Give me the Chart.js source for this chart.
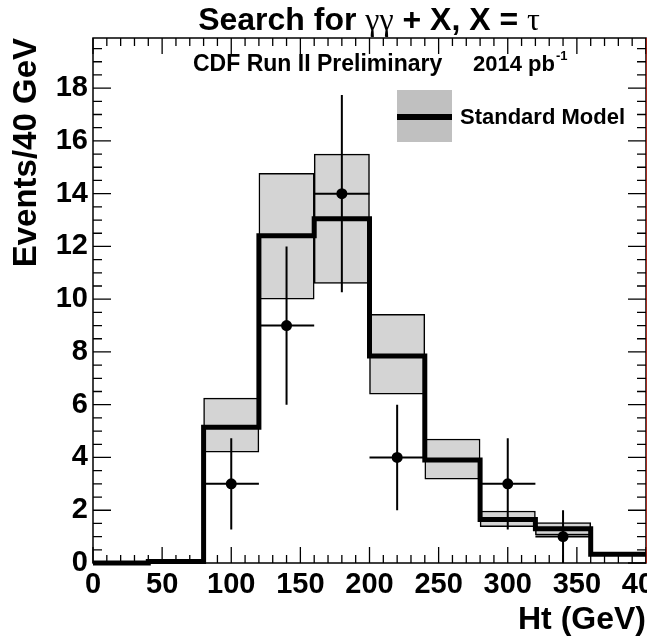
<!DOCTYPE html>
<html><head><meta charset="utf-8">
<script src="https://cdn.jsdelivr.net/npm/chart.js@4/dist/chart.umd.min.js"></script>
<style>
html,body{margin:0;padding:0;background:#fff;overflow:hidden;width:647px;height:641px}
#wrap{width:647px;height:641px;overflow:hidden;position:relative}
canvas{display:block}
</style></head>
<body><div id="wrap"><canvas id="c" width="690" height="641"></canvas></div>
<script>
// ---- data ----
const binLeftEdges = [0, 40, 80, 120, 160, 200, 240, 280, 320, 360];
const binWidth = 40;
const histEnd = 400;
const smValues  = [0.0, 0.06, 5.15, 12.4, 13.05, 7.85, 3.9, 1.65, 1.3, 0.33];
const bandLow   = [null, null, 4.2, 10.0, 10.6, 6.4, 3.18, 1.38, 1.06, null];
const bandHigh  = [null, null, 6.25, 14.77, 15.5, 9.43, 4.7, 1.97, 1.53, null];
const obsX    = [100, 140, 180, 220, 300, 340];
const obsY    = [3, 9, 14, 4, 3, 1];
const obsErr  = [1.73, 3.0, 3.74, 2.0, 1.73, 1.0];
const obsXErr = [20, 20, 20, 20, 20, 20];
const xMajorStep = 50, xMinorStep = 10;
const yMajorStep = 2, yMinorStep = 0.5;
const xMin = 0, xMax = 400, yMin = 0, yMax = 19.9;

const titleParts = [
  ["Search for ", "bold 32px 'Liberation Sans'"],
  ["\u03b3\u03b3", "32px 'Liberation Serif'"],
  [" + X, X = ", "bold 32px 'Liberation Sans'"],
  ["\u03c4", "32px 'Liberation Serif'"]
];
const labelCDF = "CDF Run II Preliminary";
const labelLumi = "2014 pb";
const labelLumiSup = "-1";
const legendLabel = "Standard Model";
const xTitle = "Ht (GeV)";
const yTitle = "Events/40 GeV";

// ---- tables for the library ----
const bandData = binLeftEdges.map((x, i) => bandLow[i] === null ? null :
  ({x: x + binWidth / 2, y: [bandLow[i], bandHigh[i]]})).filter(d => d);
const smData = binLeftEdges.map((x, i) => ({x: x, y: smValues[i]}))
  .concat([{x: histEnd, y: smValues[smValues.length - 1]}]);
const obsData = obsX.map((x, i) => ({x: x, y: obsY[i]}));

const errorBars = {
  id: 'errorBars',
  afterDatasetsDraw(chart) {
    const {ctx, scales: {x, y}} = chart;
    ctx.save();
    ctx.strokeStyle = '#000';
    ctx.lineWidth = 2;
    obsX.forEach((xv, i) => {
      const px = x.getPixelForValue(xv), py = y.getPixelForValue(obsY[i]);
      ctx.beginPath();
      ctx.moveTo(px, y.getPixelForValue(obsY[i] - obsErr[i]));
      ctx.lineTo(px, y.getPixelForValue(obsY[i] + obsErr[i]));
      ctx.moveTo(x.getPixelForValue(xv - obsXErr[i]), py);
      ctx.lineTo(x.getPixelForValue(xv + obsXErr[i]), py);
      ctx.stroke();
    });
    ctx.restore();
  }
};

const frameTicks = {
  id: 'frameTicks',
  afterDraw(chart) {
    const {ctx, chartArea: a, scales: {x, y}} = chart;
    ctx.save();
    ctx.strokeStyle = '#000';
    ctx.lineWidth = 1.5;
    ctx.strokeRect(a.left, a.top, a.right - a.left, a.bottom - a.top);
    ctx.lineWidth = 1.3;
    ctx.beginPath();
    for (let v = xMin; v <= xMax + 1e-9; v += xMinorStep) {
      const major = Math.abs(v / xMajorStep - Math.round(v / xMajorStep)) < 1e-6;
      const L = major ? 16 : 8;
      const px = x.getPixelForValue(v);
      ctx.moveTo(px, a.bottom); ctx.lineTo(px, a.bottom - L);
      ctx.moveTo(px, a.top); ctx.lineTo(px, a.top + L);
    }
    for (let v = yMin; v <= yMax + 1e-9; v += yMinorStep) {
      const major = Math.abs(v / yMajorStep - Math.round(v / yMajorStep)) < 1e-6;
      const L = major ? 18 : 9;
      const py = y.getPixelForValue(v);
      ctx.moveTo(a.left, py); ctx.lineTo(a.left + L, py);
      ctx.moveTo(a.right, py); ctx.lineTo(a.right - L, py);
    }
    ctx.stroke();
    ctx.strokeStyle = '#d02010';
    ctx.lineWidth = 1;
    ctx.beginPath();
    ctx.moveTo(a.right + 0.8, a.top); ctx.lineTo(a.right + 0.8, a.bottom);
    ctx.stroke();
    ctx.restore();
  }
};

const annotations = {
  id: 'annotations',
  afterDraw(chart) {
    const {ctx} = chart;
    ctx.save();
    ctx.fillStyle = '#000';
    ctx.textBaseline = 'alphabetic';
    // title
    let total = 0;
    titleParts.forEach(([t, f]) => { ctx.font = f; total += ctx.measureText(t).width; });
    let tx = 369 - total / 2;
    titleParts.forEach(([t, f]) => { ctx.font = f; ctx.fillText(t, tx, 30); tx += ctx.measureText(t).width; });
    // CDF label
    ctx.font = "bold 23px 'Liberation Sans'";
    ctx.fillText(labelCDF, 193, 71);
    ctx.font = "bold 22px 'Liberation Sans'";
    ctx.fillText(labelLumi, 473, 71);
    const lw = ctx.measureText(labelLumi).width;
    ctx.font = "bold 13px 'Liberation Sans'";
    ctx.fillText(labelLumiSup, 473 + lw + 1, 60);
    // legend
    ctx.fillStyle = '#c0c0c0';
    ctx.fillRect(397, 90, 55, 52);
    ctx.strokeStyle = '#000';
    ctx.lineWidth = 6;
    ctx.beginPath(); ctx.moveTo(397, 117); ctx.lineTo(452, 117); ctx.stroke();
    ctx.fillStyle = '#000';
    ctx.font = "bold 22px 'Liberation Sans'";
    ctx.textBaseline = 'middle';
    ctx.fillText(legendLabel, 460, 118);
    ctx.restore();
  }
};

new Chart(document.getElementById('c'), {
  type: 'scatter',
  data: {
    datasets: [
      {
        type: 'bar', label: 'SM uncertainty', data: bandData, order: 3,
        backgroundColor: '#d4d4d4', borderColor: '#000', borderWidth: 1.5,
        borderSkipped: false, barPercentage: 1, categoryPercentage: 1, grouped: false
      },
      {
        type: 'line', label: legendLabel, data: smData, order: 2,
        stepped: true, borderColor: '#000', borderWidth: 5, pointRadius: 0,
        fill: false, clip: false, borderCapStyle: 'butt', borderJoinStyle: 'miter'
      },
      {
        type: 'scatter', label: 'Data', data: obsData, order: 1,
        pointRadius: 5.5, pointBackgroundColor: '#000', pointBorderColor: '#000', pointBorderWidth: 0
      }
    ]
  },
  options: {
    responsive: false,
    devicePixelRatio: 1,
    animation: false,
    layout: {padding: {top: 38, right: 44, bottom: 0, left: 0}},
    plugins: {legend: {display: false}, title: {display: false}, tooltip: {enabled: false}},
    scales: {
      x: {
        type: 'linear', min: xMin, max: xMax, offset: false,
        grid: {display: false, drawTicks: false}, border: {display: false},
        ticks: {stepSize: xMajorStep, autoSkip: false, maxRotation: 0, padding: 5,
                color: '#000', font: {family: "'Liberation Sans'", weight: 'bold', size: 29}},
        title: {display: true, text: xTitle, align: 'end', color: '#000',
                font: {family: "'Liberation Sans'", weight: 'bold', size: 32}, padding: {top: 0, bottom: 2}},
        afterFit(s) { s.height = 78; }
      },
      y: {
        type: 'linear', min: yMin, max: yMax,
        grid: {display: false, drawTicks: false}, border: {display: false},
        ticks: {stepSize: yMajorStep, includeBounds: false, padding: 5,
                color: '#000', font: {family: "'Liberation Sans'", weight: 'bold', size: 29}},
        title: {display: true, text: yTitle, align: 'end', color: '#000',
                font: {family: "'Liberation Sans'", weight: 'bold', size: 33}, padding: {top: 7, bottom: 0}},
        afterFit(s) { s.width = 93; }
      }
    }
  },
  plugins: [errorBars, frameTicks, annotations]
});
</script>
</body></html>
